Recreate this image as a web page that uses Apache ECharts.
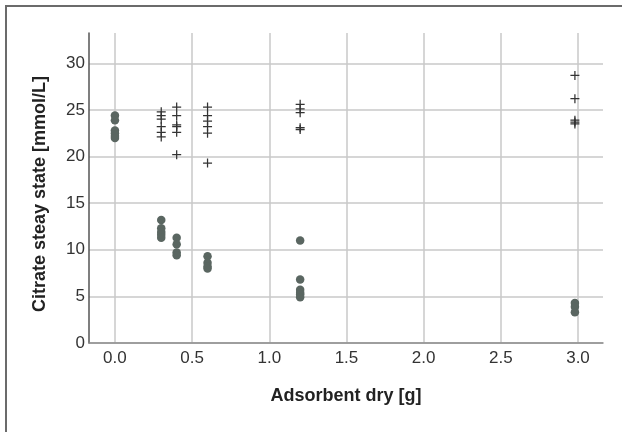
<!DOCTYPE html>
<html>
<head>
<meta charset="utf-8">
<script src="https://cdn.jsdelivr.net/npm/echarts@6/dist/echarts.min.js"></script>
<style>
  html, body { margin: 0; padding: 0; background: #fff; }
  #chart { width: 622px; height: 432px; }
</style>
</head>
<body>
<div id="chart"></div>
<script>
// adsorbent dose (g) for each group
const doses = [0.0, 0.3, 0.4, 0.6, 1.2, 2.98];

// citrate values, circles and crosses per dose
const circleVals = [
  [24.4, 23.9, 22.8, 22.5, 22.2, 22.0],
  [13.2, 12.3, 11.9, 11.6, 11.3],
  [11.3, 10.6, 9.7, 9.4],
  [9.3, 8.6, 8.2, 8.0],
  [11.0, 6.8, 5.7, 5.4, 5.2, 4.9],
  [4.3, 3.9, 3.3]
];
const crossVals = [
  [],
  [24.8, 24.4, 24.0, 23.2, 22.6, 22.1],
  [25.3, 24.4, 23.4, 23.2, 22.6, 20.2],
  [25.3, 24.4, 23.8, 23.2, 22.5, 19.3],
  [25.6, 25.1, 24.7, 23.1, 22.9],
  [28.7, 26.2, 23.9, 23.7, 23.5]
];

const xTicks = [0, 0.5, 1, 1.5, 2, 2.5, 3];
const yTicks = [0, 5, 10, 15, 20, 25, 30];

function toPoints(groups) {
  let pts = [];
  groups.forEach(function (vals, i) {
    vals.forEach(function (v) { pts.push([doses[i], v]); });
  });
  return pts;
}

const font = 'Arial, "Liberation Sans", sans-serif';
const plus = 'path://M4.3,0H5.7V4.3H10V5.7H5.7V10H4.3V5.7H0V4.3H4.3Z';

let chart = echarts.init(document.getElementById('chart'));
chart.setOption({
  backgroundColor: '#fff',
  animation: false,
  graphic: [{
    type: 'polyline',
    shape: { points: [[6, 432], [6, 6], [622, 6]] },
    style: { stroke: '#6b6b6b', lineWidth: 2, fill: null }
  }],
  grid: { left: 89, right: 19, top: 33, bottom: 89 },
  xAxis: {
    type: 'value',
    min: -0.168,
    max: 3.162,
    minInterval: 0.5,
    maxInterval: 0.5,
    name: 'Adsorbent dry [g]',
    nameLocation: 'middle',
    nameGap: 44,
    nameTextStyle: { fontFamily: font, fontSize: 18, fontWeight: 'bold', color: '#222' },
    axisLine: { onZero: false, lineStyle: { color: '#8c8c8c', width: 1.5 } },
    axisTick: { show: false },
    axisLabel: {
      fontFamily: font, fontSize: 17, color: '#333', margin: 7,
      formatter: function (v) {
        return xTicks.some(function (t) { return Math.abs(t - v) < 1e-6; }) ? v.toFixed(1) : '';
      }
    },
    splitLine: { show: true, showMinLine: false, showMaxLine: false, lineStyle: { color: '#c8c8c8', width: 1.5 } }
  },
  yAxis: {
    type: 'value',
    min: 0,
    max: 33.25,
    interval: 5,
    name: 'Citrate steay state [mmol/L]',
    nameLocation: 'middle',
    nameGap: 40,
    nameTextStyle: { fontFamily: font, fontSize: 18, fontWeight: 'bold', color: '#222', padding: [0, 12, 0, 0] },
    axisLine: { show: true, onZero: false, lineStyle: { color: '#555', width: 1.5 } },
    axisTick: { show: false },
    axisLabel: {
      fontFamily: font, fontSize: 17, color: '#333', margin: 4,
      formatter: function (v) {
        return yTicks.indexOf(v) >= 0 ? String(v) : '';
      }
    },
    splitLine: { show: true, showMaxLine: false, lineStyle: { color: '#c8c8c8', width: 1.5 } }
  },
  series: [{
    type: 'scatter',
    name: 'circles',
    data: toPoints(circleVals),
    symbol: 'circle',
    symbolSize: 8.5,
    itemStyle: { color: '#5a6661', opacity: 1 }
  }, {
    type: 'scatter',
    name: 'crosses',
    data: toPoints(crossVals),
    symbol: plus,
    symbolSize: 9,
    itemStyle: { color: '#333', opacity: 1 }
  }]
});
</script>
</body>
</html>
